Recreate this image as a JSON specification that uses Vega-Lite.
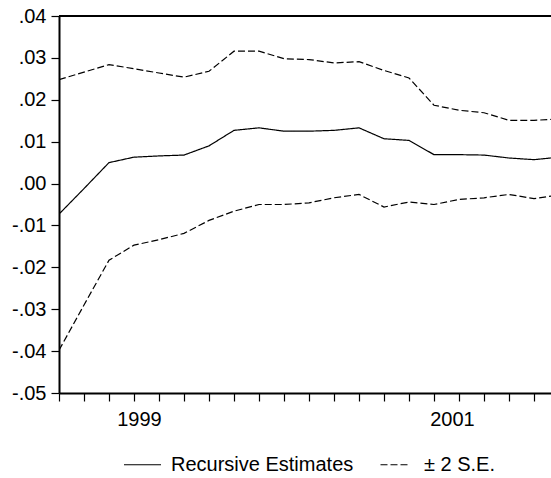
{
  "$schema": "https://vega.github.io/schema/vega-lite/v6.json",
  "usermeta": {"embedOptions": {"actions": false}},
  "width": 492,
  "height": 377,
  "padding": {"left": 11, "top": 6, "right": 0, "bottom": 5},
  "background": "white",
  "config": {
    "view": {"stroke": null},
    "font": "Liberation Sans",
    "axis": {
      "domainColor": "black", "domainWidth": 2, "tickColor": "black", "tickWidth": 1.2,
      "labelColor": "black", "labelFont": "Liberation Sans", "labelFontSize": 20,
      "grid": false, "title": null
    },
    "legend": {"labelFont": "Liberation Sans", "labelFontSize": 20, "labelColor": "black", "labelLimit": 0}
  },
  "data": {"values": [
    {"obs":0,"line":"est","series":"Recursive Estimates","v":-0.0073},
    {"obs":1,"line":"est","series":"Recursive Estimates","v":-0.0012},
    {"obs":2,"line":"est","series":"Recursive Estimates","v":0.0050},
    {"obs":3,"line":"est","series":"Recursive Estimates","v":0.0063},
    {"obs":4,"line":"est","series":"Recursive Estimates","v":0.0066},
    {"obs":5,"line":"est","series":"Recursive Estimates","v":0.0068},
    {"obs":6,"line":"est","series":"Recursive Estimates","v":0.0090},
    {"obs":7,"line":"est","series":"Recursive Estimates","v":0.0127},
    {"obs":8,"line":"est","series":"Recursive Estimates","v":0.0133},
    {"obs":9,"line":"est","series":"Recursive Estimates","v":0.0125},
    {"obs":10,"line":"est","series":"Recursive Estimates","v":0.0125},
    {"obs":11,"line":"est","series":"Recursive Estimates","v":0.0127},
    {"obs":12,"line":"est","series":"Recursive Estimates","v":0.0133},
    {"obs":13,"line":"est","series":"Recursive Estimates","v":0.0107},
    {"obs":14,"line":"est","series":"Recursive Estimates","v":0.0103},
    {"obs":15,"line":"est","series":"Recursive Estimates","v":0.0069},
    {"obs":16,"line":"est","series":"Recursive Estimates","v":0.0069},
    {"obs":17,"line":"est","series":"Recursive Estimates","v":0.0068},
    {"obs":18,"line":"est","series":"Recursive Estimates","v":0.0061},
    {"obs":19,"line":"est","series":"Recursive Estimates","v":0.0057},
    {"obs":20,"line":"est","series":"Recursive Estimates","v":0.0063},
    {"obs":0,"line":"upper","series":"± 2 S.E.","v":0.0248},
    {"obs":1,"line":"upper","series":"± 2 S.E.","v":0.0266},
    {"obs":2,"line":"upper","series":"± 2 S.E.","v":0.0284},
    {"obs":3,"line":"upper","series":"± 2 S.E.","v":0.0274},
    {"obs":4,"line":"upper","series":"± 2 S.E.","v":0.0264},
    {"obs":5,"line":"upper","series":"± 2 S.E.","v":0.0254},
    {"obs":6,"line":"upper","series":"± 2 S.E.","v":0.0268},
    {"obs":7,"line":"upper","series":"± 2 S.E.","v":0.0316},
    {"obs":8,"line":"upper","series":"± 2 S.E.","v":0.0316},
    {"obs":9,"line":"upper","series":"± 2 S.E.","v":0.0298},
    {"obs":10,"line":"upper","series":"± 2 S.E.","v":0.0296},
    {"obs":11,"line":"upper","series":"± 2 S.E.","v":0.0288},
    {"obs":12,"line":"upper","series":"± 2 S.E.","v":0.0291},
    {"obs":13,"line":"upper","series":"± 2 S.E.","v":0.0270},
    {"obs":14,"line":"upper","series":"± 2 S.E.","v":0.0252},
    {"obs":15,"line":"upper","series":"± 2 S.E.","v":0.0187},
    {"obs":16,"line":"upper","series":"± 2 S.E.","v":0.0175},
    {"obs":17,"line":"upper","series":"± 2 S.E.","v":0.0169},
    {"obs":18,"line":"upper","series":"± 2 S.E.","v":0.0151},
    {"obs":19,"line":"upper","series":"± 2 S.E.","v":0.0151},
    {"obs":20,"line":"upper","series":"± 2 S.E.","v":0.0154},
    {"obs":0,"line":"lower","series":"± 2 S.E.","v":-0.0398},
    {"obs":1,"line":"lower","series":"± 2 S.E.","v":-0.0290},
    {"obs":2,"line":"lower","series":"± 2 S.E.","v":-0.0183},
    {"obs":3,"line":"lower","series":"± 2 S.E.","v":-0.0147},
    {"obs":4,"line":"lower","series":"± 2 S.E.","v":-0.0134},
    {"obs":5,"line":"lower","series":"± 2 S.E.","v":-0.0119},
    {"obs":6,"line":"lower","series":"± 2 S.E.","v":-0.0088},
    {"obs":7,"line":"lower","series":"± 2 S.E.","v":-0.0066},
    {"obs":8,"line":"lower","series":"± 2 S.E.","v":-0.0050},
    {"obs":9,"line":"lower","series":"± 2 S.E.","v":-0.0050},
    {"obs":10,"line":"lower","series":"± 2 S.E.","v":-0.0046},
    {"obs":11,"line":"lower","series":"± 2 S.E.","v":-0.0034},
    {"obs":12,"line":"lower","series":"± 2 S.E.","v":-0.0026},
    {"obs":13,"line":"lower","series":"± 2 S.E.","v":-0.0056},
    {"obs":14,"line":"lower","series":"± 2 S.E.","v":-0.0044},
    {"obs":15,"line":"lower","series":"± 2 S.E.","v":-0.0050},
    {"obs":16,"line":"lower","series":"± 2 S.E.","v":-0.0038},
    {"obs":17,"line":"lower","series":"± 2 S.E.","v":-0.0034},
    {"obs":18,"line":"lower","series":"± 2 S.E.","v":-0.0026},
    {"obs":19,"line":"lower","series":"± 2 S.E.","v":-0.0036},
    {"obs":20,"line":"lower","series":"± 2 S.E.","v":-0.0027}
  ]},
  "layer": [
    {
      "mark": {"type": "line", "color": "black", "strokeWidth": 1.2, "clip": true},
      "encoding": {
        "x": {
          "field": "obs", "type": "quantitative",
          "scale": {"domain": [0, 19.68], "nice": false, "zero": false},
          "axis": {
            "values": [0,1,2,3,4,5,6,7,8,9,10,11,12,13,14,15,16,17,18,19,3.2,15.72],
            "tickSize": 8, "labelPadding": 8, "labelOverlap": false, "labelFlush": false,
            "labelExpr": "datum.value == 3.2 ? '1999' : (datum.value == 15.72 ? '2001' : '')",
            "tickOpacity": {"condition": {"test": "datum.value % 1 != 0", "value": 0}, "value": 1}
          }
        },
        "y": {
          "field": "v", "type": "quantitative",
          "scale": {"domain": [-0.05, 0.04], "nice": false, "zero": false},
          "axis": {
            "values": [-0.05,-0.04,-0.03,-0.02,-0.01,0,0.01,0.02,0.03,0.04],
            "tickSize": 8, "labelPadding": 5,
            "labelExpr": "replace(replace(format(datum.value, '.2f'), '0.', '.'), '\u2212', '-')"
          }
        },
        "detail": {"field": "line"},
        "strokeDash": {
          "field": "series", "type": "nominal",
          "scale": {"domain": ["Recursive Estimates", "± 2 S.E."], "range": [[1, 0], [7, 3]]},
          "legend": {
            "title": null, "orient": "none", "legendX": 64, "legendY": 429, "direction": "horizontal",
            "symbolType": "stroke", "symbolSize": 1369, "symbolStrokeColor": "black",
            "symbolStrokeWidth": 1.2, "labelOffset": 9, "columnPadding": 22, "labelLimit": 0,
            "encode": {
              "symbols": {
                "update": {
                  "strokeDash": {"signal": "datum.value == '± 2 S.E.' ? [4, 2] : [1, 0]"},
                  "size": {"signal": "datum.value == '± 2 S.E.' ? 900 : 1369"}
                }
              }
            }
          }
        }
      }
    },
    {
      "mark": {"type": "rule", "color": "black", "strokeWidth": 2},
      "encoding": {"y": {"datum": 0.04, "type": "quantitative"}}
    }
  ]
}
